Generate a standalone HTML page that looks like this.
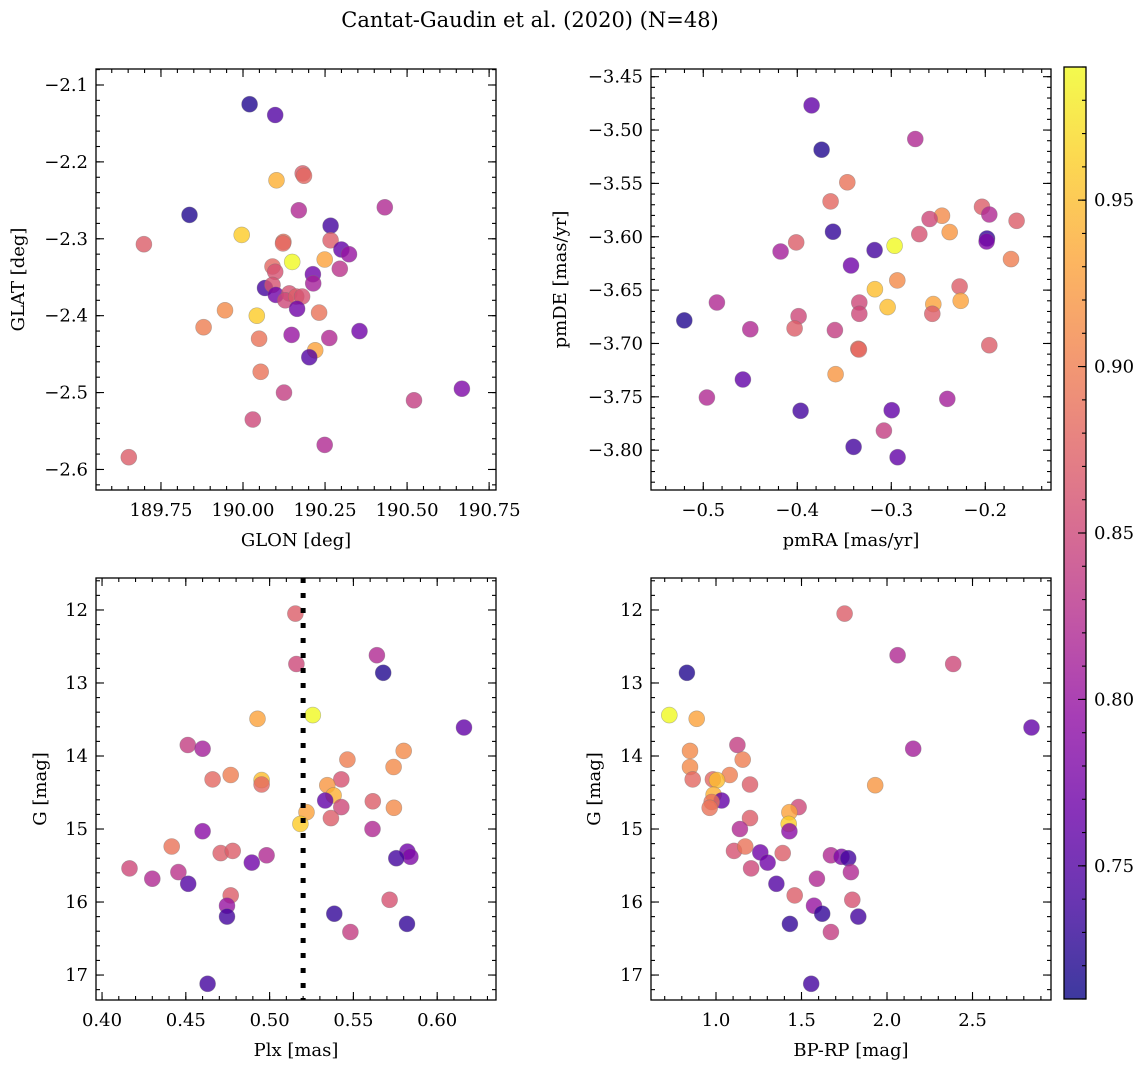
<!DOCTYPE html>
<html><head><meta charset="utf-8"><style>
html,body{margin:0;padding:0;background:#fff;}
svg text{font-family:"DejaVu Serif","Liberation Serif",serif;fill:#000;}
</style></head><body>
<svg id="fig" width="1148" height="1067" viewBox="0 0 1148 1067" xmlns="http://www.w3.org/2000/svg">
<defs><linearGradient id="cbg" x1="0" y1="1" x2="0" y2="0"></linearGradient></defs>
<text x="530" y="27" text-anchor="middle" font-size="21">Cantat-Gaudin et al. (2020) (N=48)</text>
</svg>
<script>
// ---- Panel 1: GLON / GLAT
const glon=[190.020,190.098,190.182,190.186,190.102,190.170,190.432,189.837,190.267,189.996,189.698,190.123,190.122,190.267,190.300,190.323,190.150,190.249,190.090,190.098,190.295,190.213,190.214,190.067,190.090,190.100,190.141,190.129,190.162,190.180,190.165,189.945,190.232,190.042,189.880,190.148,190.355,190.263,190.049,190.220,190.202,190.054,190.667,190.125,190.521,190.030,190.249,189.652];
const glat=[-2.125,-2.139,-2.215,-2.218,-2.224,-2.263,-2.259,-2.269,-2.283,-2.295,-2.307,-2.304,-2.306,-2.302,-2.314,-2.320,-2.330,-2.327,-2.336,-2.343,-2.339,-2.346,-2.358,-2.364,-2.360,-2.373,-2.371,-2.380,-2.375,-2.375,-2.391,-2.393,-2.396,-2.400,-2.415,-2.425,-2.420,-2.429,-2.430,-2.445,-2.454,-2.473,-2.495,-2.500,-2.510,-2.535,-2.568,-2.584];
const c1=[0.72,0.75,0.87,0.88,0.94,0.82,0.82,0.72,0.74,0.96,0.87,0.89,0.88,0.87,0.76,0.80,0.99,0.93,0.88,0.86,0.83,0.77,0.81,0.74,0.86,0.77,0.86,0.85,0.87,0.86,0.77,0.91,0.89,0.96,0.90,0.80,0.77,0.82,0.89,0.93,0.75,0.89,0.78,0.84,0.84,0.85,0.82,0.87];
// ---- Panel 2: pmRA / pmDE
const pmra=[-0.3848,-0.2745,-0.3741,-0.3468,-0.3645,-0.2035,-0.1957,-0.2461,-0.2592,-0.1667,-0.3620,-0.2702,-0.2379,-0.1982,-0.1986,-0.4011,-0.3177,-0.2965,-0.4177,-0.3429,-0.1727,-0.2936,-0.3174,-0.2273,-0.4855,-0.3340,-0.3039,-0.2553,-0.2564,-0.2262,-0.5202,-0.3986,-0.3340,-0.4500,-0.4028,-0.3600,-0.3351,-0.3344,-0.1957,-0.3592,-0.4578,-0.4961,-0.2404,-0.3965,-0.2996,-0.3078,-0.3401,-0.2933];
const pmde=[-3.4769,-3.5084,-3.5184,-3.5490,-3.5669,-3.5719,-3.5791,-3.5803,-3.5834,-3.5850,-3.5953,-3.5975,-3.5956,-3.6016,-3.6044,-3.6053,-3.6125,-3.6084,-3.6138,-3.6269,-3.6209,-3.6409,-3.6491,-3.6466,-3.6616,-3.6616,-3.6659,-3.6631,-3.6722,-3.6600,-3.6784,-3.6744,-3.6722,-3.6866,-3.6859,-3.6875,-3.7050,-3.7056,-3.7016,-3.7288,-3.7338,-3.7506,-3.7519,-3.7631,-3.7625,-3.7816,-3.7969,-3.8066];
const c2=[0.76,0.82,0.72,0.89,0.88,0.87,0.82,0.91,0.85,0.87,0.73,0.86,0.92,0.73,0.78,0.87,0.74,0.99,0.81,0.77,0.90,0.91,0.95,0.87,0.82,0.85,0.95,0.93,0.87,0.93,0.72,0.85,0.85,0.82,0.87,0.84,0.89,0.88,0.87,0.92,0.76,0.82,0.81,0.74,0.76,0.84,0.74,0.76];
// ---- Panel 3: Plx / G
const plx=[0.5154,0.5160,0.5640,0.5678,0.5258,0.6160,0.4928,0.4512,0.4600,0.5800,0.5464,0.5740,0.4768,0.4660,0.4952,0.4952,0.5428,0.5344,0.5382,0.5332,0.5428,0.5616,0.5742,0.5220,0.5184,0.5366,0.5614,0.4600,0.4416,0.4708,0.4780,0.4982,0.4894,0.5822,0.5840,0.5756,0.4164,0.4300,0.4456,0.4514,0.4768,0.4746,0.4746,0.5716,0.5386,0.5820,0.5482,0.4630];
const g3=[12.05,12.74,12.62,12.86,13.44,13.61,13.49,13.85,13.90,13.93,14.05,14.15,14.26,14.32,14.33,14.39,14.32,14.40,14.54,14.61,14.70,14.62,14.71,14.77,14.93,14.85,15.00,15.03,15.24,15.33,15.30,15.36,15.46,15.31,15.38,15.40,15.54,15.68,15.59,15.75,15.91,16.05,16.20,15.97,16.16,16.30,16.41,17.12];
const c3=[0.87,0.85,0.82,0.72,0.99,0.76,0.93,0.84,0.81,0.91,0.90,0.91,0.90,0.88,0.95,0.88,0.86,0.92,0.94,0.76,0.85,0.87,0.91,0.93,0.96,0.87,0.82,0.79,0.89,0.87,0.87,0.82,0.77,0.77,0.78,0.74,0.85,0.82,0.83,0.75,0.87,0.80,0.74,0.86,0.73,0.73,0.84,0.74];
// ---- Panel 4: BP-RP / G
const bprp=[1.752,2.062,2.387,0.830,0.727,0.887,2.845,1.125,2.153,0.848,1.156,0.848,1.080,0.864,0.982,1.006,1.199,1.931,0.986,1.033,0.975,0.963,1.483,1.429,1.199,1.425,1.140,1.429,1.105,1.171,1.259,1.390,1.302,1.672,1.734,1.773,1.205,1.789,1.590,1.353,1.460,1.797,1.573,1.621,1.832,1.432,1.672,1.557];
const g4=[12.05,12.62,12.74,12.86,13.44,13.49,13.61,13.85,13.90,13.93,14.05,14.15,14.26,14.32,14.32,14.33,14.39,14.40,14.53,14.61,14.63,14.71,14.70,14.77,14.85,14.93,15.00,15.03,15.30,15.24,15.32,15.33,15.46,15.36,15.38,15.40,15.54,15.59,15.68,15.75,15.91,15.97,16.05,16.16,16.20,16.30,16.41,17.12];
const c4=[0.87,0.82,0.85,0.72,0.99,0.93,0.76,0.84,0.81,0.91,0.90,0.91,0.90,0.88,0.88,0.95,0.87,0.92,0.94,0.76,0.89,0.89,0.85,0.93,0.87,0.96,0.82,0.79,0.86,0.89,0.77,0.87,0.77,0.82,0.78,0.74,0.85,0.82,0.82,0.75,0.87,0.86,0.80,0.73,0.74,0.73,0.84,0.74];
// ---- tick labels
const ticks1x=[189.75,190.00,190.25,190.50,190.75];
const ticks1y=[-2.1,-2.2,-2.3,-2.4,-2.5,-2.6];
const ticks2x=[-0.5,-0.4,-0.3,-0.2];
const ticks2y=[-3.45,-3.50,-3.55,-3.60,-3.65,-3.70,-3.75,-3.80];
const ticks3x=[0.40,0.45,0.50,0.55,0.60];
const ticksG=[12,13,14,15,16,17];
const ticks4x=[1.0,1.5,2.0,2.5];
const ticksCb=[0.75,0.80,0.85,0.90,0.95];
const plxCut=[0.52];
const cmin=0.710, cmax=0.990;

const NS="http://www.w3.org/2000/svg";
const svg=document.getElementById('fig');
const FS=18;
function mk(tag,attrs,parent){const e=document.createElementNS(NS,tag);for(const k in attrs)e.setAttribute(k,attrs[k]);(parent||svg).appendChild(e);return e;}
const stops=[[13,8,135],[65,4,157],[106,0,168],[143,13,164],[177,42,144],[204,71,120],[225,100,98],[242,132,75],[252,166,54],[252,206,37],[240,249,33]];
function plasma(v){let t=(v-cmin)/(cmax-cmin);t=Math.max(0,Math.min(1,t));const f=t*10,i=Math.min(9,Math.floor(f)),r=f-i;const a=stops[i],b=stops[i+1];return 'rgb('+[0,1,2].map(k=>Math.round(a[k]+(b[k]-a[k])*r)).join(',')+')';}
function neg(s){return s.replace('-','\u2212');}

function panel(cfg){
  const {name,L,T,W,H,xmin,xmax,ymin,ymax,invY,xt,yt,xdec,ydec,xminor,yminor,xlab,ylab,ylabX,xs,ys,cs}=cfg;
  const g=mk('g',{});
  
  
  const sx=v=>L+(v-xmin)/(xmax-xmin)*W;
  const sy=v=>invY? T+(v-ymin)/(ymax-ymin)*H : T+H-(v-ymin)/(ymax-ymin)*H;
  const pg=mk('g',{},g);
  
  
  for(let i=0;i<xs.length;i++){
    const c=mk('circle',{cx:sx(xs[i]).toFixed(1),cy:sy(ys[i]).toFixed(1),r:8,fill:plasma(cs[i]),'fill-opacity':0.8,stroke:'#777','stroke-opacity':0.5,'stroke-width':0.6},pg);
    
    
  }
  if(cfg.extra)cfg.extra(g,sx,sy);
  const fr=mk('rect',{x:L,y:T,width:W,height:H,fill:'none',stroke:'#000','stroke-width':1.3},g);
  
  
  const tk=mk('g',{stroke:'#000','stroke-width':1.1},g);
  const eps=1e-9;
  const x0=Math.ceil(xmin/xminor-eps),x1=Math.floor(xmax/xminor+eps);
  for(let k=x0;k<=x1;k++){const px=sx(k*xminor);mk('line',{x1:px,x2:px,y1:T+H,y2:T+H-4},tk);mk('line',{x1:px,x2:px,y1:T,y2:T+4},tk);}
  const y0=Math.ceil(Math.min(ymin,ymax)/yminor-eps),y1=Math.floor(Math.max(ymin,ymax)/yminor+eps);
  for(let k=y0;k<=y1;k++){const py=sy(k*yminor);mk('line',{y1:py,y2:py,x1:L,x2:L+4},tk);mk('line',{y1:py,y2:py,x1:L+W,x2:L+W-4},tk);}
  xt.forEach(v=>{const px=sx(v);mk('line',{x1:px,x2:px,y1:T+H,y2:T+H-8},tk);mk('line',{x1:px,x2:px,y1:T,y2:T+8},tk);
    const t=mk('text',{x:px,y:T+H+26,'text-anchor':'middle','font-size':FS},g);t.textContent=neg(v.toFixed(xdec));
    
    });
  yt.forEach(v=>{const py=sy(v);mk('line',{y1:py,y2:py,x1:L,x2:L+8},tk);mk('line',{y1:py,y2:py,x1:L+W,x2:L+W-8},tk);
    const t=mk('text',{x:L-8,y:py+6,'text-anchor':'end','font-size':FS},g);t.textContent=neg(v.toFixed(ydec));
    
    });
  const xl=mk('text',{x:L+W/2,y:T+H+56,'text-anchor':'middle','font-size':FS},g);xl.textContent=xlab;
  
  
  const yl=mk('text',{x:ylabX,y:T+H/2,'text-anchor':'middle','font-size':FS,transform:'rotate(-90 '+ylabX+' '+(T+H/2)+')'},g);yl.textContent=ylab;
  
  
}

panel({name:'glon-glat-panel',L:96,T:69,W:400,H:421,xmin:189.552,xmax:190.771,ymin:-2.6267,ymax:-2.0792,invY:false,
  xt:ticks1x,yt:ticks1y,xdec:2,ydec:1,xminor:0.05,yminor:0.02,xlab:'GLON [deg]',ylab:'GLAT [deg]',ylabX:24,xs:glon,ys:glat,cs:c1});
panel({name:'proper-motion-panel',L:651,T:69,W:400,H:421,xmin:-0.5556,xmax:-0.1301,ymin:-3.8373,ymax:-3.4428,invY:false,
  xt:ticks2x,yt:ticks2y,xdec:1,ydec:2,xminor:0.02,yminor:0.01,xlab:'pmRA [mas/yr]',ylab:'pmDE [mas/yr]',ylabX:566,xs:pmra,ys:pmde,cs:c2});
panel({name:'parallax-magnitude-panel',L:96,T:578,W:400,H:422,xmin:0.3964,xmax:0.6351,ymin:11.562,ymax:17.342,invY:true,
  xt:ticks3x,yt:ticksG,xdec:2,ydec:0,xminor:0.01,yminor:0.2,xlab:'Plx [mas]',ylab:'G [mag]',ylabX:46,xs:plx,ys:g3,cs:c3,
  extra:(g,sx,sy)=>{plxCut.forEach(v=>{const l=mk('line',{x1:sx(v),x2:sx(v),y1:578,y2:1000,stroke:'#000','stroke-width':5,'stroke-dasharray':'5,10'},g);
    
    });}});
panel({name:'color-magnitude-panel',L:651,T:578,W:400,H:422,xmin:0.6199,xmax:2.959,ymin:11.562,ymax:17.342,invY:true,
  xt:ticks4x,yt:ticksG,xdec:1,ydec:0,xminor:0.1,yminor:0.2,xlab:'BP-RP [mag]',ylab:'G [mag]',ylabX:600,xs:bprp,ys:g4,cs:c4});

const grad=document.getElementById('cbg');
for(let i=0;i<=20;i++){mk('stop',{offset:(i/20),'stop-color':plasma(cmin+(cmax-cmin)*i/20),'stop-opacity':0.8},grad);}
const CL=1064,CT=67,CW=22,CH=932;
const cb=mk('g',{});


mk('rect',{x:CL,y:CT,width:CW,height:CH,fill:'url(#cbg)'},cb);
mk('rect',{x:CL,y:CT,width:CW,height:CH,fill:'none',stroke:'#000','stroke-width':1.3},cb);
const cy=v=>CT+CH-(v-cmin)/(cmax-cmin)*CH;
for(let k=Math.ceil(cmin*100);k<=Math.floor(cmax*100);k++){const py=cy(k/100);mk('line',{x1:CL+CW,x2:CL+CW-4,y1:py,y2:py,stroke:'#000','stroke-width':1.1},cb);}
ticksCb.forEach(v=>{const py=cy(v);mk('line',{x1:CL+CW,x2:CL+CW-8,y1:py,y2:py,stroke:'#000','stroke-width':1.1},cb);
  const t=mk('text',{x:CL+CW+8,y:py+6,'font-size':FS},cb);t.textContent=v.toFixed(2);
  
  });
</script>
</body></html>
